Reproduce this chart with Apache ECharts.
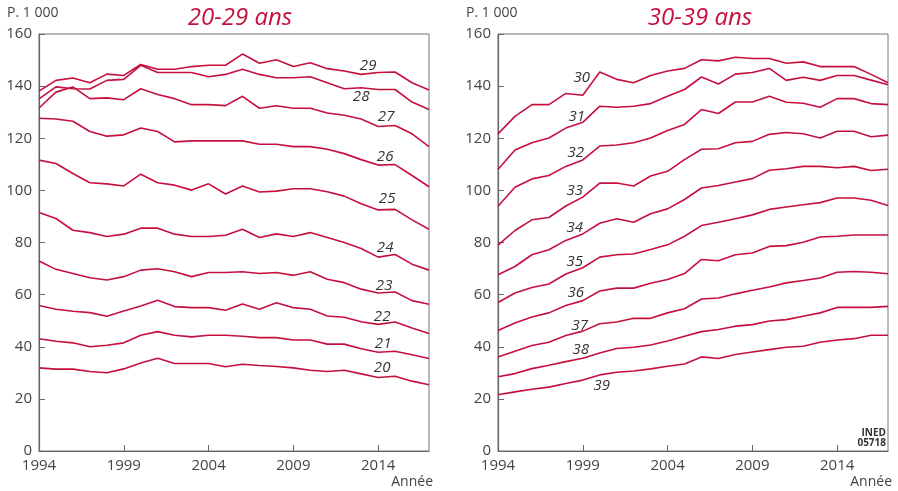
<!DOCTYPE html>
<html>
<head>
<meta charset="utf-8">
<script src="https://cdn.jsdelivr.net/npm/echarts@6/dist/echarts.min.js"></script>
<style>
  html, body { margin: 0; padding: 0; background: #fff; }
  #main { width: 898px; height: 491px; }
</style>
</head>
<body>
<div id="main"></div>
<script>
// années (axe x)
const years = ['1994','1995','1996','1997','1998','1999','2000','2001','2002','2003','2004','2005',
  '2006','2007','2008','2009','2010','2011','2012','2013','2014','2015','2016','2017'];
const yTicks = [0, 20, 40, 60, 80, 100, 120, 140, 160];

// 20-29 ans, en milliers
const age20 = [31.9,31.4,31.4,30.5,30.0,31.5,33.8,35.6,33.6,33.6,33.6,32.3,33.3,32.8,32.4,31.9,31.0,30.5,31.0,29.6,28.2,28.7,26.8,25.4];
const age21 = [43.1,42.1,41.5,40.0,40.6,41.5,44.4,45.8,44.4,43.8,44.4,44.4,44.0,43.5,43.5,42.6,42.6,41.0,41.0,39.2,37.9,38.3,36.9,35.5];
const age22 = [55.8,54.4,53.6,53.1,51.7,53.7,55.6,57.8,55.4,55.0,55.0,54.0,56.4,54.4,56.9,55.0,54.4,51.8,51.3,49.6,48.6,49.5,47.2,45.1];
const age23 = [72.9,69.7,68.1,66.5,65.6,66.9,69.4,69.9,68.8,66.9,68.5,68.5,68.8,68.1,68.5,67.4,68.8,65.9,64.6,62.1,60.6,61.0,57.7,56.3];
const age24 = [91.5,89.2,84.7,83.8,82.3,83.2,85.5,85.5,83.2,82.3,82.3,82.8,85.1,81.9,83.3,82.3,83.8,81.9,80.0,77.7,74.4,75.4,71.7,69.4];
const age25 = [111.6,110.3,106.5,102.9,102.5,101.7,106.2,102.9,102.0,100.1,102.5,98.6,101.7,99.4,99.7,100.6,100.6,99.5,97.8,94.9,92.5,92.7,88.7,85.1];
const age26 = [127.7,127.4,126.5,122.6,120.8,121.3,123.9,122.6,118.6,119.0,119.0,119.0,119.0,117.7,117.7,116.8,116.8,115.8,114.1,111.8,109.7,109.9,105.7,101.4];
const age27 = [131.6,137.7,139.7,135.2,135.5,134.8,139.0,136.8,135.2,132.9,132.9,132.5,136.1,131.5,132.5,131.5,131.5,129.7,128.8,127.4,124.5,124.9,121.7,116.8];
const age28 = [135.1,139.7,139.0,138.9,142.2,142.6,148.0,145.2,145.2,145.2,143.6,144.5,146.5,144.5,143.2,143.2,143.6,141.3,139.0,139.4,138.7,138.7,133.9,131.0];
const age29 = [138.1,142.2,143.1,141.3,144.6,144.1,148.3,146.5,146.5,147.5,148.0,148.0,152.3,148.8,150.1,147.5,149.0,146.7,145.8,144.5,145.2,145.4,141.3,138.5];

// 30-39 ans, en milliers
const age30 = [121.7,128.4,132.9,132.9,137.2,136.5,145.4,142.6,141.3,144.1,145.8,146.8,150.1,149.7,151.1,150.6,150.6,148.8,149.3,147.5,147.5,147.5,144.5,141.3];
const age31 = [108.0,115.5,118.3,120.1,123.9,126.1,132.3,131.9,132.3,133.3,136.1,138.7,143.5,140.8,144.6,145.2,146.8,142.2,143.4,142.2,144.1,144.1,142.3,140.5];
const age32 = [93.9,101.2,104.4,105.7,109.2,111.7,117.0,117.4,118.3,120.1,123.0,125.3,131.0,129.5,133.9,133.9,136.1,133.8,133.4,131.9,135.2,135.2,133.3,132.9];
const age33 = [79.0,84.6,88.7,89.6,94.0,97.4,102.8,102.8,101.7,105.5,107.3,111.8,115.8,116.0,118.3,118.8,121.5,122.2,121.7,120.1,122.7,122.7,120.6,121.2];
const age34 = [67.6,70.8,75.3,77.2,80.8,83.3,87.4,89.1,87.8,91.0,92.9,96.5,100.9,101.9,103.2,104.5,107.7,108.3,109.2,109.2,108.7,109.2,107.6,108.1];
const age35 = [57.0,60.6,62.7,64.1,67.9,70.3,74.4,75.3,75.6,77.3,79.1,82.4,86.5,87.8,89.1,90.6,92.7,93.6,94.5,95.3,97.1,97.1,96.2,94.2];
const age36 = [46.2,49.1,51.4,53.0,55.8,57.7,61.4,62.5,62.5,64.4,65.8,68.1,73.5,73.0,75.3,76.0,78.5,78.8,80.1,82.1,82.4,82.9,82.9,82.9];
const age37 = [36.1,38.3,40.5,41.7,44.3,46.0,48.8,49.5,50.9,50.9,53.0,54.6,58.3,58.7,60.3,61.7,62.9,64.5,65.4,66.4,68.6,68.9,68.6,68.0];
const age38 = [28.5,29.7,31.6,32.9,34.3,35.6,37.6,39.3,39.8,40.7,42.2,44.0,45.8,46.6,47.9,48.5,49.9,50.4,51.7,53.0,55.1,55.1,55.1,55.5];
const age39 = [21.6,22.7,23.7,24.5,25.9,27.2,29.2,30.2,30.7,31.5,32.5,33.4,36.1,35.5,37.0,38.0,38.9,39.8,40.2,41.7,42.6,43.1,44.4,44.4];

const leftSeries = [['20', age20], ['21', age21], ['22', age22], ['23', age23], ['24', age24],
  ['25', age25], ['26', age26], ['27', age27], ['28', age28], ['29', age29]];
const rightSeries = [['30', age30], ['31', age31], ['32', age32], ['33', age33], ['34', age34],
  ['35', age35], ['36', age36], ['37', age37], ['38', age38], ['39', age39]];

// où poser l'étiquette de chaque courbe : [indice de l'année, décalage px]
const labelSpots = {
  '20': [20, [4, -10]], '21': [20, [5, -8]], '22': [20, [4, -8]], '23': [20, [6, -7]],
  '24': [20, [7, -9]], '25': [20, [9, -11]], '26': [20, [7, -8]], '27': [20, [8, -10]],
  '28': [20, [-17, 7]], '29': [20, [-10, -7]],
  '30': [5, [-1, -18]], '31': [5, [-6, -6]], '32': [5, [-7, -7]], '33': [5, [-8, -6]],
  '34': [5, [-8, -6]], '35': [5, [-8, -6]], '36': [5, [-7, -8]], '37': [5, [-3, -5]],
  '38': [5, [-2, -8]], '39': [6, [2, 11]]
};

const RED = '#c5103f';
const FONT = '"Open Sans", "Noto Sans", sans-serif';

function makeSeries(list, idx) {
  return list.map(([name, vals]) => {
    const spot = labelSpots[name];
    return {
      name: name,
      type: 'line',
      xAxisIndex: idx,
      yAxisIndex: idx,
      symbol: 'circle',
      symbolSize: 0,
      showSymbol: true,
      silent: true,
      animation: false,
      lineStyle: { color: RED, width: 1.6 },
      itemStyle: { color: RED },
      data: vals.map((v, i) => {
        if (i !== spot[0]) return v;
        return {
          value: v,
          label: {
            show: true, position: 'inside', offset: spot[1], formatter: name,
            fontFamily: FONT, fontStyle: 'italic', fontSize: 15, color: '#333'
          }
        };
      })
    };
  });
}

function xAxisOf(idx) {
  return {
    type: 'category', gridIndex: idx, data: years, boundaryGap: false,
    axisLine: { lineStyle: { color: '#666', width: 1.2 } },
    axisTick: { inside: true, length: 6, interval: 4, lineStyle: { color: '#666' } },
    axisLabel: { interval: 4, color: '#444', fontSize: 15, fontFamily: FONT, margin: 7 },
    splitLine: { show: false }
  };
}
function yAxisOf(idx) {
  return {
    type: 'value', gridIndex: idx, min: yTicks[0], max: yTicks[yTicks.length - 1], interval: 20,
    axisLine: { show: true, lineStyle: { color: '#666', width: 1.2 } },
    axisTick: { show: true, inside: true, length: 6, lineStyle: { color: '#666' } },
    axisLabel: { color: '#444', fontSize: 15, fontFamily: FONT, margin: 7 },
    splitLine: { show: false }
  };
}

function txt(text, x, y, align, font, fill) {
  return { type: 'text', x: x, y: y, silent: true,
    style: { text: text, textAlign: align, textVerticalAlign: 'middle', font: font, fill: fill } };
}

const chart = echarts.init(document.getElementById('main'));
chart.setOption({
  backgroundColor: '#fff',
  animation: false,
  grid: [
    { left: 39, right: 469, top: 34, bottom: 40, show: true, borderColor: '#777', borderWidth: 1 },
    { left: 498, right: 10, top: 34, bottom: 40, show: true, borderColor: '#777', borderWidth: 1 }
  ],
  xAxis: [xAxisOf(0), xAxisOf(1)],
  yAxis: [yAxisOf(0), yAxisOf(1)],
  series: makeSeries(leftSeries, 0).concat(makeSeries(rightSeries, 1)),
  graphic: [
    txt('20-29 ans', 240, 18, 'center', 'italic 24px ' + FONT, RED),
    txt('30-39 ans', 700, 18, 'center', 'italic 24px ' + FONT, RED),
    txt('P. 1 000', 7, 13, 'left', '14px ' + FONT, '#444'),
    txt('P. 1 000', 466, 13, 'left', '14px ' + FONT, '#444'),
    txt('Année', 433, 482, 'right', '14px ' + FONT, '#444'),
    txt('Année', 892, 482, 'right', '14px ' + FONT, '#444'),
    txt('INED', 886, 433, 'right', 'bold 10px ' + FONT, '#333'),
    txt('05718', 886, 443, 'right', 'bold 10px ' + FONT, '#333')
  ]
});
</script>
</body>
</html>
